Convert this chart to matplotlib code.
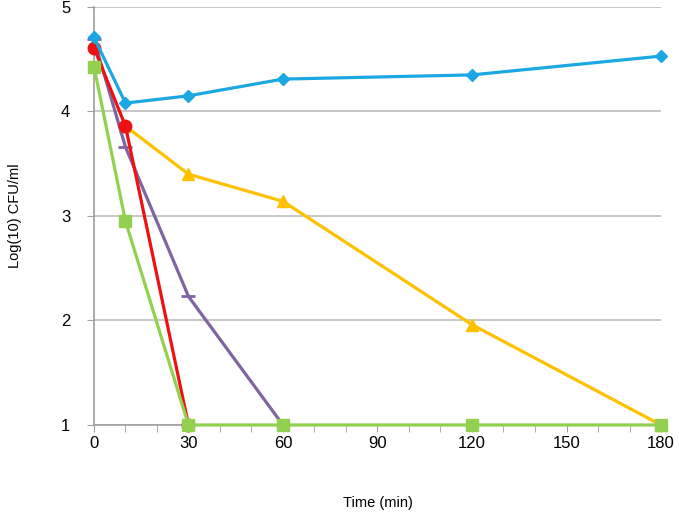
import matplotlib.pyplot as plt

plt.rcParams["font.family"] = ["Liberation Sans", "DejaVu Sans"]

# sampling times (min)
time_blue = [0, 10, 30, 60, 120, 180]
blue = [4.71, 4.08, 4.15, 4.31, 4.35, 4.53]

time_yellow = [10, 30, 60, 120, 180]
yellow = [3.86, 3.40, 3.14, 1.96, 1.0]

time_purple = [0, 10, 30, 60]
purple = [4.69, 3.66, 2.23, 1.0]

time_red = [0, 10, 30]
red = [4.61, 3.86, 1.0]

time_green = [0, 10, 30, 60, 120, 180]
green = [4.43, 2.95, 1.0, 1.0, 1.0, 1.0]

x_ticks = [0, 30, 60, 90, 120, 150, 180]
y_ticks = [1, 2, 3, 4, 5]

fig = plt.figure(figsize=(6.79, 5.21), dpi=100)
ax = fig.add_axes([0.1384, 0.1843, 0.8351, 0.8023])

lw = 2.3
ax.plot(time_yellow, yellow, color="#FFC000", lw=lw, marker="^", ms=8, zorder=3, clip_on=False)
ax.plot(time_purple, purple, color="#8064A2", lw=lw, marker="_", ms=10, mew=2, zorder=4, clip_on=False)
ax.plot(time_red, red, color="#EE1111", lw=lw, marker="o", ms=9, zorder=5, clip_on=False)
ax.plot(time_green, green, color="#92D050", lw=lw, marker="s", ms=8, zorder=6, clip_on=False)
ax.plot(time_blue, blue, color="#1BA7E2", lw=lw, marker="D", ms=6, zorder=7, clip_on=False)

ax.set_xlim(0, 180)
ax.set_ylim(1, 5)
ax.set_xticks(x_ticks)
ax.set_xticks(range(0, 181, 10), minor=True)
ax.set_yticks(y_ticks)
ax.tick_params(axis="both", which="major", labelsize=12, length=5, color="#A0A0A0", pad=4)
ax.tick_params(axis="x", which="minor", length=5, color="#A0A0A0")
ax.tick_params(axis="y", which="major", pad=12)
ax.tick_params(axis="x", which="major", pad=3)

ax.grid(axis="y", color="#BEBEBE", lw=1.2, zorder=0)
for s in ["top", "right"]:
    ax.spines[s].set_visible(False)
for s in ["left", "bottom"]:
    ax.spines[s].set_color("#A0A0A0")
    ax.spines[s].set_linewidth(1.2)

ax.set_xlabel("Time (min)", fontsize=10.5, labelpad=32)
ax.set_ylabel("Log(10) CFU/ml", fontsize=10.5, labelpad=28)

fig.savefig("out.png", dpi=100)
